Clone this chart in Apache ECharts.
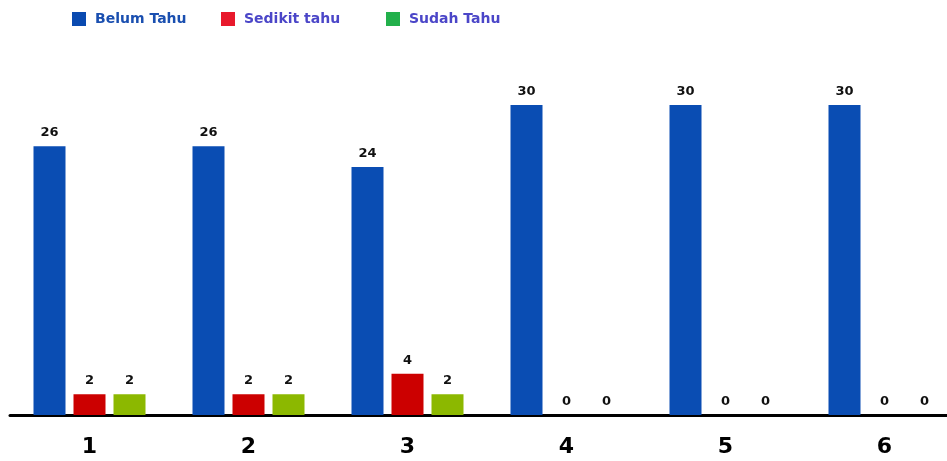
<!DOCTYPE html>
<html>
<head>
<meta charset="utf-8">
<script src="https://cdn.jsdelivr.net/npm/echarts@6/dist/echarts.min.js"></script>
<style>
  html, body { margin: 0; padding: 0; background: #fff; overflow: hidden; }
  /* the last group in the original runs past the right edge */
  #chart { width: 964px; height: 461px; }
</style>
</head>
<body>
<div id="chart"></div>
<script>
var categories = ["1", "2", "3", "4", "5", "6"];
var belumTahu = [26, 26, 24, 30, 30, 30];
var sedikitTahu = [2, 2, 4, 0, 0, 0];
var sudahTahu = [2, 2, 2, 0, 0, 0];

var myChart = echarts.init(document.getElementById("chart"));

var labelOption = {
  show: true,
  position: "top",
  distance: 7,
  color: "#111",
  fontFamily: "DejaVu Sans",
  fontWeight: "bold",
  fontSize: 13
};

// one legend per item, the gaps in the original are uneven
function makeLegend(name, left, iconColor, textColor) {
  return {
    left: left,
    top: 7,
    itemWidth: 14,
    itemHeight: 14,
    icon: "rect",
    textStyle: {
      fontFamily: "DejaVu Sans",
      fontWeight: "bold",
      fontSize: 14,
      color: textColor,
      padding: [0, 0, 0, 4]
    },
    data: [{ name: name, itemStyle: { color: iconColor } }]
  };
}

var option = {
  animation: false,
  legend: [
    makeLegend("Belum Tahu", 67, "#0a4ab0", "#1a4fb0"),
    makeLegend("Sedikit tahu", 216, "#e8192c", "#4b46c8"),
    makeLegend("Sudah Tahu", 381, "#22b04b", "#4b46c8")
  ],
  grid: {
    left: 10,
    right: 0,
    top: 105,
    bottom: 46
  },
  xAxis: {
    type: "category",
    data: categories,
    axisLine: { lineStyle: { color: "#000", width: 3 } },
    axisTick: { show: false },
    axisLabel: {
      margin: 21,
      color: "#000",
      fontFamily: "DejaVu Sans",
      fontWeight: "bold",
      fontSize: 22
    }
  },
  yAxis: {
    type: "value",
    min: 0,
    max: 30,
    show: false,
    splitLine: { show: false }
  },
  series: [
    {
      name: "Belum Tahu",
      type: "bar",
      barWidth: 32,
      barGap: "25%",
      itemStyle: { color: "#0a4db3" },
      label: labelOption,
      data: belumTahu
    },
    {
      name: "Sedikit tahu",
      type: "bar",
      barWidth: 32,
      barGap: "25%",
      itemStyle: { color: "#cc0000" },
      label: labelOption,
      data: sedikitTahu
    },
    {
      name: "Sudah Tahu",
      type: "bar",
      barWidth: 32,
      barGap: "25%",
      itemStyle: { color: "#8cb800" },
      label: labelOption,
      data: sudahTahu
    }
  ]
};

myChart.setOption(option);
</script>
</body>
</html>
